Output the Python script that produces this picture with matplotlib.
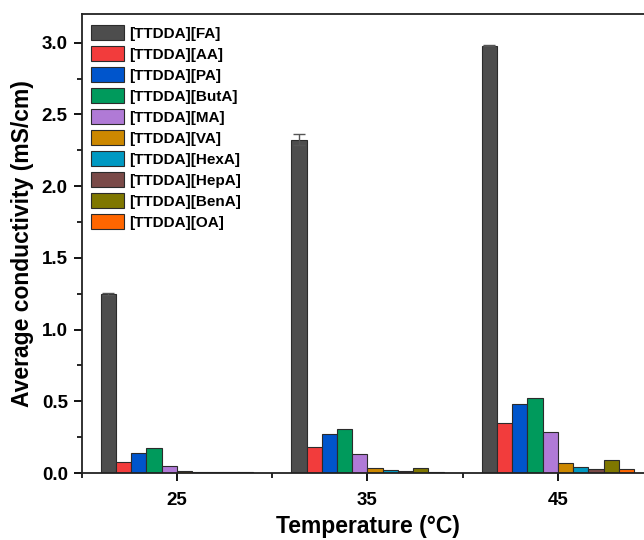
import numpy as np
import matplotlib.pyplot as plt
from matplotlib.ticker import MultipleLocator, FixedLocator

plt.rcParams['font.family'] = ['Liberation Sans', 'DejaVu Sans']
plt.rcParams['font.weight'] = 'bold'

# Data
temps = [25, 35, 45]
labels = ['[TTDDA][FA]', '[TTDDA][AA]', '[TTDDA][PA]', '[TTDDA][ButA]', '[TTDDA][MA]',
          '[TTDDA][VA]', '[TTDDA][HexA]', '[TTDDA][HepA]', '[TTDDA][BenA]', '[TTDDA][OA]']
fa = [1.25, 2.325, 2.98]
fa_err = [0.008, 0.04, 0.005]
aa = [0.075, 0.18, 0.35]
pa = [0.137, 0.27, 0.478]
buta = [0.177, 0.306, 0.52]
ma = [0.05, 0.13, 0.285]
va = [0.016, 0.033, 0.068]
hexa = [0.006, 0.021, 0.04]
hepa = [0.004, 0.012, 0.031]
bena = [0.01, 0.035, 0.093]
oa = [0.005, 0.009, 0.025]
colors = ['#4d4d4d', '#f23c3c', '#0055cc', '#009a5c', '#b07ad6',
          '#cc8800', '#0099c2', '#7a4a48', '#7f7700', '#ff6600']

series = [fa, aa, pa, buta, ma, va, hexa, hepa, bena, oa]

fig = plt.figure(figsize=(6.44, 5.4), dpi=100)
ax = fig.add_axes([0.1269, 0.124, 0.8874, 0.850])

width = 0.8
x = np.array(temps, dtype=float)
for i, (vals, c, lab) in enumerate(zip(series, colors, labels)):
    pos = x + (i - 4.5) * width
    if i == 0:
        ax.bar(pos, vals, width, color=c, edgecolor='#2b2b2b', linewidth=0.8, label=lab,
               yerr=fa_err, capsize=4, error_kw=dict(ecolor='#555555', elinewidth=1, capthick=1))
    else:
        ax.bar(pos, vals, width, color=c, edgecolor='#2b2b2b', linewidth=0.8, label=lab)

ax.set_xlim(20, 50)
ax.set_ylim(0, 3.2)
ax.xaxis.set_major_locator(FixedLocator(temps))
ax.xaxis.set_minor_locator(FixedLocator([20, 30, 40, 50]))
ax.yaxis.set_major_locator(MultipleLocator(0.5))
ax.yaxis.set_minor_locator(MultipleLocator(0.25))
ax.yaxis.set_major_formatter(plt.FuncFormatter(lambda v, p: f'{v:.1f}'))

for s in ax.spines.values():
    s.set_linewidth(1.3)
    s.set_color('#222222')
ax.tick_params(which='major', direction='out', length=6, width=1.3, labelsize=13.5, pad=4)
ax.tick_params(which='minor', direction='out', length=3.5, width=1.2)
ax.tick_params(axis='x', which='major', pad=8)

ax.set_xlabel('Temperature (°C)', fontsize=16.5, fontweight='bold', labelpad=4)
ax.set_ylabel('Average conductivity (mS/cm)', fontsize=16.5, fontweight='bold', labelpad=6)

ax.legend(loc='upper left', bbox_to_anchor=(0.0157, 0.976), frameon=False,
          handlelength=2.15, handleheight=1.1, handletextpad=0.35,
          labelspacing=0.36, borderpad=0, borderaxespad=0,
          prop={'weight': 'bold', 'size': 11})

fig.savefig('out.png', dpi=100)
